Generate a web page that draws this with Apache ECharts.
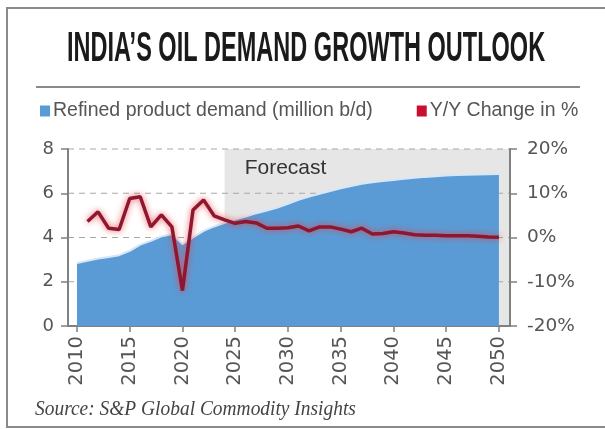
<!DOCTYPE html>
<html>
<head>
<meta charset="utf-8">
<script src="https://cdn.jsdelivr.net/npm/echarts@6/dist/echarts.min.js"></script>
<style>html,body{margin:0;padding:0;background:#fff;}#c{width:605px;height:429px;}</style>
</head>
<body>
<div id="c"></div>
<script>
const demandYears = [2010,2011,2012,2013,2014,2015,2016,2017,2018,2019,2020,2021,2022,2023,2024,2025,2026,2027,2028,2029,2030,2031,2032,2033,2034,2035,2036,2037,2038,2039,2040,2041,2042,2043,2044,2045,2046,2047,2048,2049,2050];
const demand = [2.85,2.95,3.05,3.12,3.2,3.4,3.68,3.85,4.05,4.15,3.7,4.0,4.3,4.5,4.66,4.82,4.95,5.1,5.22,5.35,5.52,5.7,5.85,5.98,6.1,6.22,6.33,6.43,6.5,6.55,6.6,6.65,6.7,6.74,6.77,6.8,6.82,6.84,6.85,6.86,6.87];
const changeYears = [2011,2012,2013,2014,2015,2016,2017,2018,2019,2020,2021,2022,2023,2024,2025,2026,2027,2028,2029,2030,2031,2032,2033,2034,2035,2036,2037,2038,2039,2040,2041,2042,2043,2044,2045,2046,2047,2048,2049,2050];
const change = [3.6,5.8,2.1,1.8,8.8,9.2,2.4,5.1,2.4,-12,6.2,8.5,4.9,4.0,3.2,3.6,3.3,2.1,2.1,2.2,2.6,1.5,2.4,2.4,1.9,1.3,2.1,0.8,0.9,1.3,1.0,0.6,0.5,0.5,0.4,0.4,0.4,0.3,0.1,0.05];
const xTicks = [2010,2015,2020,2025,2030,2035,2040,2045,2050];
const leftGridTicks = [2, 4, 6, 8];
const forecastStart = 2024;
const titleText = "INDIA\u2019S OIL DEMAND GROWTH OUTLOOK";
const sourceText = "Source: S&P Global Commodity Insights";

const chart = echarts.init(document.getElementById('c'), null, {renderer:'canvas'});
const FONT = "'Liberation Sans', Arial, sans-serif";
const AXFONT = "'DejaVu Sans', sans-serif";
const labelColor = '#555';
const axisColor = '#808080';
const xMin = 2009.15, xMax = 2051.05;
const yMax = 8;

const option = {
  backgroundColor: '#fff',
  animation: false,
  grid: {left: 68, right: 95, top: 149, bottom: 103, containLabel: false},
  legend: {
    left: 35, top: 96,
    itemWidth: 10, itemHeight: 11, itemGap: 44,
    icon: 'rect',
    textStyle: {fontFamily: FONT, fontSize: 19.5, color: labelColor, padding: [0,0,0,-2]},
    data: [
      {name: 'Refined product demand (million b/d)', itemStyle: {color: '#5b9bd5'}},
      {name: 'Y/Y Change in %', itemStyle: {color: '#c8102e'}}
    ]
  },
  xAxis: {
    type: 'value', min: xMin, max: xMax,
    axisLine: {show: true, lineStyle: {color: axisColor, width: 2}},
    axisTick: {show: true, length: 6, customValues: xTicks, lineStyle: {color: axisColor, width: 1.5}},
    axisLabel: {customValues: xTicks, rotate: 90, margin: 10, fontFamily: AXFONT, fontSize: 19.5, color: labelColor, formatter: v => String(v)},
    splitLine: {show: false}
  },
  yAxis: [
    {
      type: 'value', min: 0, max: yMax, interval: 2,
      axisLine: {show: true, lineStyle: {color: axisColor, width: 2}},
      axisTick: {show: true, length: 7, lineStyle: {color: axisColor, width: 1.5}},
      axisLabel: {fontFamily: AXFONT, fontSize: 18, color: labelColor, margin: 14},
      splitLine: {show: false}
    },
    {
      type: 'value', min: -20, max: 20, interval: 10,
      axisLine: {show: true, lineStyle: {color: axisColor, width: 2}},
      axisTick: {show: true, length: 7, lineStyle: {color: axisColor, width: 1.5}},
      axisLabel: {fontFamily: AXFONT, fontSize: 18.5, color: labelColor, margin: 17, formatter: v => v + '%'},
      splitLine: {show: false}
    }
  ],
  series: [
    {
      name: 'forecast-bg', type: 'custom', z: 0, silent: true, clip: false,
      data: [[forecastStart, xMax]],
      encode: {x: [0, 1]},
      renderItem: function (params, api) {
        const p0 = api.coord([api.value(0), yMax]);
        const p1 = api.coord([api.value(1), 0]);
        const children = [
          {type: 'rect', shape: {x: p0[0], y: p0[1], width: p1[0] - p0[0], height: p1[1] - p0[1]}, style: {fill: '#e6e6e6'}}
        ];
        leftGridTicks.forEach(function (t) {
          const a = api.coord([xMin, t]);
          const b = api.coord([xMax, t]);
          children.push({type: 'line', shape: {x1: a[0], y1: a[1], x2: b[0], y2: b[1]}, style: {stroke: '#a8a8a8', lineWidth: 1.2, lineDash: [6, 5]}});
        });
        children.push({type: 'text', x: p0[0] + 20, y: p0[1] + 9, style: {text: 'Forecast', fill: '#333', font: "21px 'Liberation Sans', Arial, sans-serif", textAlign: 'left', textVerticalAlign: 'top'}});
        return {type: 'group', children: children};
      }
    },
    {
      name: 'Refined product demand (million b/d)', type: 'line', z: 2,
      data: demandYears.map((y,i) => [y, demand[i]]),
      symbol: 'none',
      lineStyle: {color: '#d6e7f7', width: 2},
      itemStyle: {color: '#5b9bd5'},
      areaStyle: {color: '#5b9bd5', opacity: 1}
    },
    {
      name: 'Y/Y Change in %', type: 'line', z: 3, yAxisIndex: 1,
      data: changeYears.map((y,i) => [y, change[i]]),
      symbol: 'none',
      lineStyle: {color: '#8e1630', width: 3.5, shadowColor: 'rgba(235,60,60,0.85)', shadowBlur: 6},
      itemStyle: {color: '#c8102e'}
    }
  ],
  graphic: [
    {type: 'rect', shape: {x: 7, y: 8, width: 620, height: 419}, style: {fill: 'none', stroke: '#8a8a8a', lineWidth: 2}, silent: true},
    {type: 'line', shape: {x1: 36, y1: 87, x2: 580, y2: 87}, style: {stroke: '#8a8a8a', lineWidth: 2}, silent: true},
    {type: 'text', x: 306, y: 49, scaleX: 0.56,
      style: {text: titleText, fill: '#1a1a1a', font: "bold 42px 'Liberation Sans Narrow', 'Liberation Sans', sans-serif", textAlign: 'center', textVerticalAlign: 'middle'}},
    {type: 'text', x: 35, y: 409, scaleX: 0.925,
      style: {text: sourceText, fill: '#444', font: "italic 21px 'Liberation Serif', serif", textAlign: 'left', textVerticalAlign: 'middle'}}
  ]
};
chart.setOption(option);
</script>
</body>
</html>
